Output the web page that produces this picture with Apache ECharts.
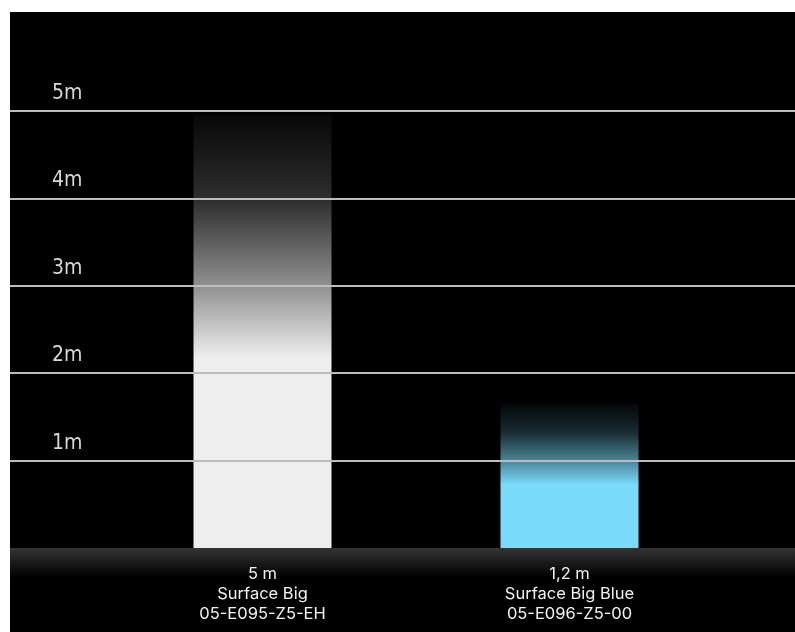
<!DOCTYPE html>
<html>
<head>
<meta charset="utf-8">
<script src="https://cdn.jsdelivr.net/npm/echarts@6/dist/echarts.min.js"></script>
<style>
  html, body { margin: 0; padding: 0; background: #fff; }
  #chart { position: absolute; left: 10px; top: 12px; width: 785px; height: 620px; background: #000; }
</style>
</head>
<body>
<div id="chart"></div>
<script>
// tick labels of the height scale
const heightTicks = ['0', '1m', '2m', '3m', '4m', '5m'];
// products
const reachLabels = ['5 m', '1,2 m'];
const productNames = ['Surface Big', 'Surface Big Blue'];
const productCodes = ['05-E095-Z5-EH', '05-E096-Z5-00'];
// visible height of each light column (m)
const columnHeights = [4.95, 1.65];
const columnColors = ['238,238,238', '122,218,250'];

function fade(rgb) {
  return {
    type: 'linear', x: 0, y: 0, x2: 0, y2: 1,
    colorStops: [
      { offset: 0, color: 'rgba(' + rgb + ',0.03)' },
      { offset: 0.2, color: 'rgba(' + rgb + ',0.2)' },
      { offset: 0.4, color: 'rgba(' + rgb + ',0.62)' },
      { offset: 0.56, color: 'rgba(' + rgb + ',1)' },
      { offset: 1, color: 'rgba(' + rgb + ',1)' }
    ]
  };
}

const categories = productNames.map((n, i) => i);

let chart = echarts.init(document.getElementById('chart'));
chart.setOption({
  backgroundColor: '#000',
  animation: false,
  grid: [
    { left: 0, right: 0, top: 99, bottom: 84 },
    { left: 99, right: 72, top: 99, bottom: 84 }
  ],
  xAxis: [
    { gridIndex: 0, type: 'category', data: categories, show: false },
    {
      gridIndex: 1, type: 'category', data: categories, z: 6,
      axisLine: { show: false }, axisTick: { show: false },
      axisLabel: {
        margin: 16,
        formatter: (v, i) => reachLabels[i] + '\n' + productNames[i] + '\n' + productCodes[i],
        color: '#f2f2f2', fontFamily: 'Inter', fontSize: 16.5, lineHeight: 20.2, align: 'center'
      }
    }
  ],
  yAxis: [
    {
      gridIndex: 0, type: 'value', min: 0, max: 5, interval: 1, z: 3,
      axisLine: { show: false }, axisTick: { show: false },
      splitLine: { lineStyle: { color: ['rgba(0,0,0,0)', '#bdbdbd', '#bdbdbd', '#bdbdbd', '#bdbdbd', '#bdbdbd'], width: 2 } },
      axisLabel: {
        inside: true, margin: 42, align: 'left', verticalAlign: 'bottom', padding: [0, 0, 7, 0],
        color: '#d8d8d8', fontFamily: 'DejaVu Sans Condensed', fontSize: 21,
        formatter: (v) => v === 0 ? '' : heightTicks[v]
      }
    },
    { gridIndex: 1, type: 'value', min: 0, max: 5, show: false }
  ],
  graphic: [{
    type: 'rect', z: 1,
    shape: { x: 0, y: 536, width: 785, height: 84 },
    style: {
      fill: {
        type: 'linear', x: 0, y: 0, x2: 0, y2: 1,
        colorStops: [
          { offset: 0, color: '#343434' },
          { offset: 0.35, color: '#000' },
          { offset: 1, color: '#000' }
        ]
      }
    }
  }],
  series: [{
    type: 'bar', xAxisIndex: 1, yAxisIndex: 1, barWidth: 138,
    data: columnHeights.map((v, i) => ({ value: v, itemStyle: { color: fade(columnColors[i]) } }))
  }]
});
</script>
</body>
</html>
